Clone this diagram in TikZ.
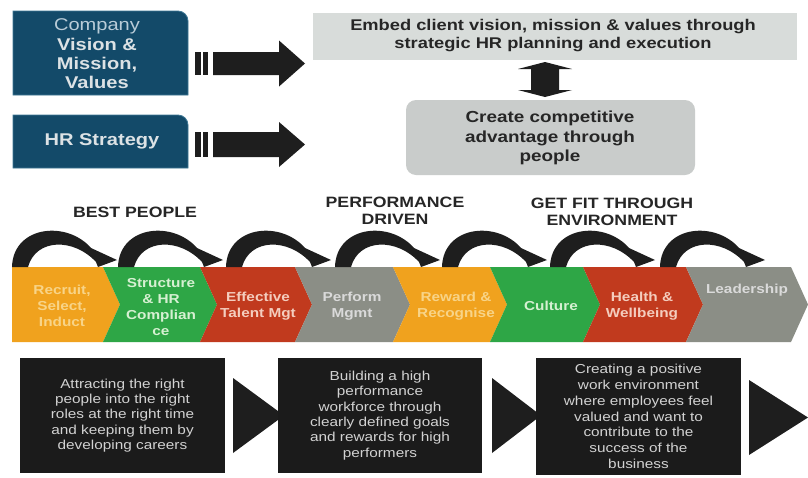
\documentclass[tikz,border=0pt]{standalone}
\usepackage{fontspec}
\setmainfont[FakeStretch=1.18]{Liberation Sans}
\definecolor{teal}{HTML}{134A69}
\definecolor{tealedge}{HTML}{3E7794}
\definecolor{lightblue}{HTML}{B9CCD8}
\definecolor{paletxt}{HTML}{DCE2E5}
\definecolor{embedgray}{HTML}{D8DCDA}
\definecolor{creategray}{HTML}{C9CCCB}
\definecolor{arrowblack}{HTML}{1E1E1E}
\definecolor{boxblack}{HTML}{1B1B1B}
\definecolor{corange}{HTML}{F0A21E}
\definecolor{cgreen}{HTML}{2EA646}
\definecolor{cred}{HTML}{C13A1E}
\definecolor{cgray}{HTML}{8B8E86}
\definecolor{torange}{HTML}{F8D488}
\definecolor{tgreen}{HTML}{D6F0D2}
\definecolor{tred}{HTML}{F4CDBE}
\definecolor{tgray}{HTML}{DADADA}
\definecolor{boxtxt}{HTML}{D2D2D2}
\definecolor{darktxt}{HTML}{262626}
\begin{document}
\begin{tikzpicture}[x=1pt,y=-1pt,
  chevtext/.style={align=center,font=\bfseries\fontsize{13}{16}\selectfont,inner sep=0pt},
  headtext/.style={align=center,font=\bfseries\fontsize{15}{17}\selectfont,text=darktxt,inner sep=0pt},
  blackbox/.style={fill=boxblack,minimum width=205pt,inner sep=0pt,align=center,text=boxtxt,font=\fontsize{13}{15.3}\selectfont},
  arcarrow/.pic={\fill[arrowblack] (0,1) .. controls (1,-42) and (60,-47) .. (83,-13) -- (79,-18) -- (105,-6) -- (86,1) -- (84,-4) .. controls (62,-28) and (24,-28) .. (16,1) -- cycle;}
]
\useasboundingbox (0,0) rectangle (808,477);
\fill[white] (0,0) rectangle (808,477);

% top-left boxes
\filldraw[fill=teal,draw=tealedge,line width=0.8pt] (13,95) -- (13,11) [rounded corners=10pt] -- (188,11) [sharp corners] -- (188,95) -- cycle;
\filldraw[fill=teal,draw=tealedge,line width=0.8pt] (13,168) -- (13,115) [rounded corners=10pt] -- (188,115) [sharp corners] -- (188,168) -- cycle;
\node[align=center,inner sep=0pt,font=\fontsize{17}{19.3}\selectfont,text=paletxt] (vision) at (97,54)
  {{\color{lightblue}Company}\\ \textbf{Vision \&}\\ \textbf{Mission,}\\ \textbf{Values}};
\node[inner sep=0pt,font=\bfseries\fontsize{17}{19}\selectfont,text=paletxt] (hrstrat) at (102,141) {HR Strategy};

% striped arrows
\foreach \yc/\hb/\hh in {63.5/11.5/23, 144.5/12.5/22.5} {
  \fill[arrowblack] (195,\yc-\hb) rectangle (201,\yc+\hb);
  \fill[arrowblack] (203,\yc-\hb) rectangle (208,\yc+\hb);
  \fill[arrowblack] (213,\yc-\hb) -- (279,\yc-\hb) -- (279,\yc-\hh) -- (305,\yc) -- (279,\yc+\hh) -- (279,\yc+\hb) -- (213,\yc+\hb) -- cycle;
}

% right gray boxes
\node[fill=embedgray,minimum width=484pt,minimum height=47pt,inner sep=0pt] (embedbox) at (555,36.5) {};
\node[align=center,inner sep=0pt,font=\bfseries\fontsize{15.5}{18}\selectfont,text=darktxt] (embed) at (553,36)
  {Embed client vision, mission \& values through\\strategic HR planning and execution};
\node[fill=creategray,rounded corners=10pt,minimum width=289pt,minimum height=75pt,inner sep=0pt] (createbox) at (550.5,137.5) {};
\node[align=center,inner sep=0pt,font=\bfseries\fontsize{16}{19.5}\selectfont,text=darktxt] (create) at (550,138)
  {Create competitive\\advantage through\\people};

% double arrow
\fill[arrowblack] (545,62) -- (572,69) -- (559,69) -- (559,90) -- (572,90) -- (545,97) -- (518,90) -- (531,90) -- (531,69) -- (518,69) -- cycle;

% headers
\node[headtext] (best) at (135,212) {BEST PEOPLE};
\node[headtext] (perf) at (395,211) {PERFORMANCE\\DRIVEN};
\node[headtext] (fit) at (612,212) {GET FIT THROUGH\\ENVIRONMENT};

% chevron band
\fill[corange] (12,267) -- (103,267) -- (120,304.5) -- (103,342) -- (12,342) -- cycle;
\foreach \xl/\xr/\col in {103/200/cgreen, 200/295/cred, 295/393/cgray, 393/490/corange, 490/583/cgreen, 583/686/cred, 686/791/cgray} {
  \fill[\col] (\xl,267) -- (\xr,267) -- ({\xr+17},304.5) -- (\xr,342) -- (\xl,342) -- ({\xl+17},304.5) -- cycle;
}

% curved arrows
\foreach \s in {12,118,226,335,442,550,660} {
  \pic at (\s,266) {arcarrow};
}

% chevron texts
\node[chevtext,text=torange] (c1) at (62,306) {Recruit,\\Select,\\Induct};
\node[chevtext,text=tgreen] (c2) at (161,307) {Structure\\\& HR\\Complian\\ce};
\node[chevtext,text=tred] (c3) at (258,306) {Effective\\Talent Mgt};
\node[chevtext,text=tgray] (c4) at (352,306) {Perform\\Mgmt};
\node[chevtext,text=torange] (c5) at (456,306) {Reward \&\\Recognise};
\node[chevtext,text=tgreen] (c6) at (551,306) {Culture};
\node[chevtext,text=tred] (c7) at (642,306) {Health \&\\Wellbeing};
\node[chevtext,text=tgray] (c8) at (747,290) {Leadership};

% bottom arrows (behind boxes)
\fill[arrowblack] (233,378) -- (284,415.5) -- (233,453) -- cycle;
\fill[arrowblack] (492,378) -- (541,415.5) -- (492,453) -- cycle;
\fill[arrowblack] (749,380) -- (808,417.5) -- (749,455) -- cycle;

% bottom boxes
\node[blackbox,minimum height=115pt] (b1) at (122.5,415.5)
  {Attracting the right\\people into the right\\roles at the right time\\and keeping them by\\developing careers};
\node[blackbox,minimum height=115pt,minimum width=204pt] (b2) at (380,415.5)
  {Building a high\\performance\\workforce through\\clearly defined goals\\and rewards for high\\performers};
\node[blackbox,minimum height=117pt,font=\fontsize{13}{15.8}\selectfont] (b3) at (638.5,416.5)
  {Creating a positive\\work environment\\where employees feel\\valued and want to\\contribute to the\\success of the\\business};
\end{tikzpicture}
\end{document}
